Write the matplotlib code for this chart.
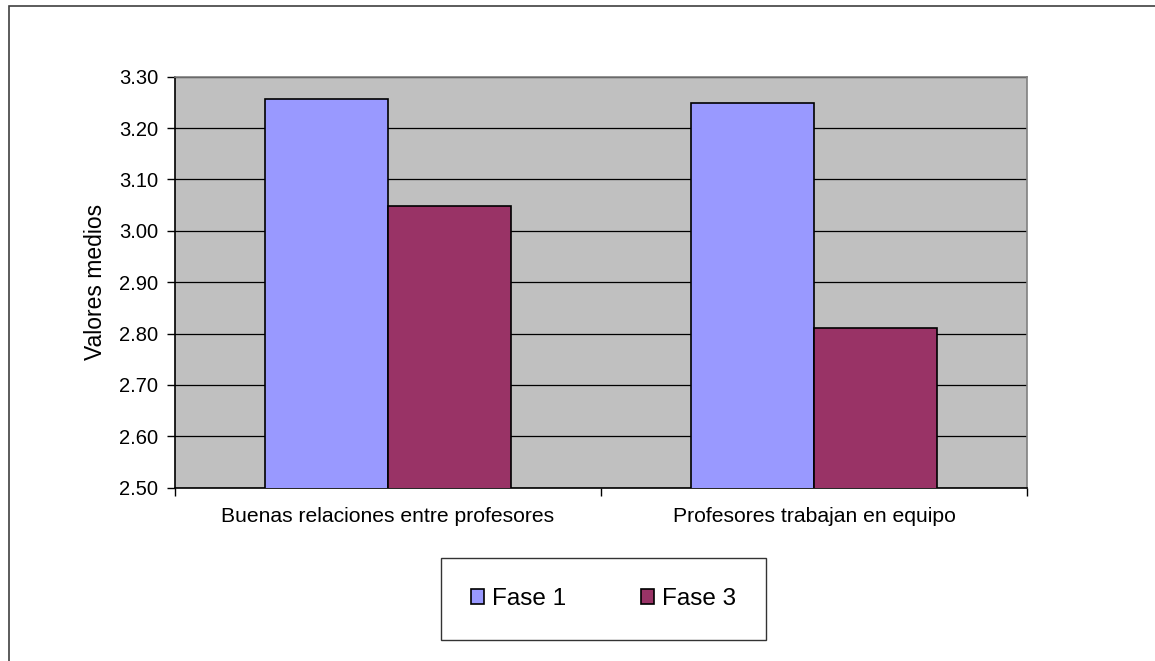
import matplotlib
matplotlib.use("Agg")
import matplotlib.pyplot as plt
from matplotlib.patches import Rectangle
import numpy as np

plt.rcParams['font.family'] = ['Liberation Sans', 'DejaVu Sans']

categories = ["Buenas relaciones entre profesores", "Profesores trabajan en equipo"]
series_names = ["Fase 1", "Fase 3"]
fase1 = [3.257, 3.249]
fase3 = [3.049, 2.810]
yticks = [2.50, 2.60, 2.70, 2.80, 2.90, 3.00, 3.10, 3.20, 3.30]
colors = ["#9999FF", "#993366"]

W, H = 1155, 661
fig = plt.figure(figsize=(W / 100, H / 100), dpi=100)
fig.patch.set_facecolor("white")

# outer chart frame
fig.patches.append(Rectangle((9 / W, -0.05), 1.2, 1 - 6 / H + 0.05, transform=fig.transFigure,
                             fill=False, edgecolor="#404040", linewidth=1.2))

ax = fig.add_axes([175 / W, 1 - 487.7 / H, (1027 - 175) / W, (487.7 - 76.7) / H])
ax.set_facecolor("#C0C0C0")

x = np.arange(len(categories))
bw = 0.288
ax.bar(x - bw / 2, fase1, bw, color=colors[0], edgecolor="black", linewidth=1.2,
       label=series_names[0], zorder=3)
ax.bar(x + bw / 2, fase3, bw, color=colors[1], edgecolor="black", linewidth=1.2,
       label=series_names[1], zorder=3)

ax.set_ylim(2.5, 3.3)
ax.set_xlim(-0.5, 1.5)
ax.set_yticks(yticks)
ax.set_yticklabels([f"{v:.2f}" for v in yticks], fontsize=14.5)
ax.yaxis.grid(True, color="black", linewidth=0.9, zorder=1)
ax.set_axisbelow(True)

ax.set_xticks(x)
ax.set_xticklabels(categories, fontsize=15.2)
ax.tick_params(axis="x", which="major", length=0, pad=14)
ax.set_xticks([-0.5, 0.5, 1.5], minor=True)
ax.tick_params(axis="x", which="minor", length=6, width=1, direction="out")
ax.tick_params(axis="y", length=6, width=1, direction="out", pad=6)

for s in ["top", "right"]:
    ax.spines[s].set_color("#808080")
    ax.spines[s].set_linewidth(1.2)
for s in ["left", "bottom"]:
    ax.spines[s].set_color("black")
    ax.spines[s].set_linewidth(1.2)

ax.set_ylabel("Valores medios", fontsize=16.5, labelpad=9)

leg = fig.legend(loc="center", bbox_to_anchor=((437.7 + 769) / 2 / W, 1 - (557.3 + 640.7) / 2 / H),
                 ncol=2, fontsize=17.5, frameon=True, fancybox=False, edgecolor="black",
                 handlelength=0.55, handleheight=0.55, columnspacing=3.1, handletextpad=0.3,
                 borderpad=1.25, borderaxespad=0)
leg.get_frame().set_linewidth(1.0)

fig.savefig("out.png", dpi=100, facecolor="white")
